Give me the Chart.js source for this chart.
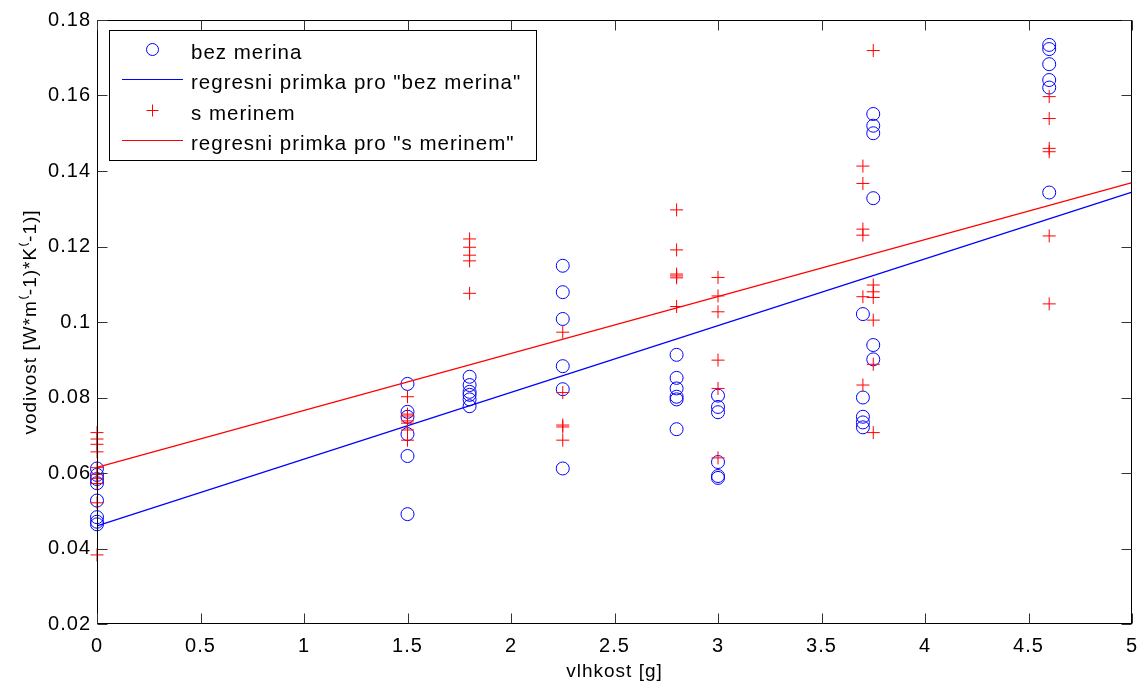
<!DOCTYPE html>
<html><head><meta charset="utf-8">
<script src="https://cdn.jsdelivr.net/npm/chart.js@4.4.1/dist/chart.umd.min.js"></script>
<style>html,body{margin:0;padding:0;background:#fff;} canvas{display:block;}</style>
</head><body>
<canvas id="c" width="1141" height="684"></canvas>
<script>
// ---- data ----
const groupX = [0, 1.5, 1.8, 2.25, 2.8, 3.0, 3.7, 3.75, 4.6];
const bezMerina = [
  [0.0612, 0.0595, 0.0584, 0.0573, 0.0527, 0.0483, 0.0471, 0.0464],
  [0.0836, 0.0762, 0.0749, 0.0703, 0.0645, 0.0491],
  [0.0855, 0.0833, 0.0815, 0.0807, 0.0795, 0.0777],
  [0.1149, 0.1079, 0.1008, 0.0883, 0.0822, 0.0612],
  [0.0913, 0.0852, 0.0824, 0.0802, 0.0795, 0.0716],
  [0.0805, 0.0775, 0.0761, 0.0629, 0.0592, 0.0587],
  [0.1021, 0.0800, 0.0749, 0.0734, 0.0721],
  [0.1551, 0.1520, 0.1500, 0.1328, 0.0939, 0.0901],
  [0.1734, 0.1723, 0.1683, 0.1641, 0.1621, 0.1343]
];
const sMerinem = [
  [0.0707, 0.0690, 0.0676, 0.0656, 0.0614, 0.0597, 0.0586, 0.0572, 0.0521, 0.0383],
  [0.0802, 0.0756, 0.0751, 0.0738, 0.0732, 0.0714, 0.0687],
  [0.1220, 0.1198, 0.1177, 0.1162, 0.1076],
  [0.0973, 0.0813, 0.0727, 0.0722, 0.0687],
  [0.1297, 0.1191, 0.1127, 0.1122, 0.1117, 0.1041],
  [0.1118, 0.1069, 0.1027, 0.0899, 0.0824, 0.0640],
  [0.1413, 0.1367, 0.1246, 0.1230, 0.1067, 0.0833],
  [0.1719, 0.1098, 0.1080, 0.1065, 0.1005, 0.0888, 0.0707],
  [0.1597, 0.1539, 0.1460, 0.1451, 0.1228, 0.1048]
];
const regX = [0, 5];
const regBez = [0.0460, 0.1344];
const regS = [0.0615, 0.1369];
const xTickValues = [0, 0.5, 1, 1.5, 2, 2.5, 3, 3.5, 4, 4.5, 5];
const xTickLabels = ['0', '0.5', '1', '1.5', '2', '2.5', '3', '3.5', '4', '4.5', '5'];
const yTickValues = [0.02, 0.04, 0.06, 0.08, 0.1, 0.12, 0.14, 0.16, 0.18];
const yTickLabels = ['0.02', '0.04', '0.06', '0.08', '0.1', '0.12', '0.14', '0.16', '0.18'];
const seriesLabels = ['bez merina', 'regresni primka pro "bez merina"', 's merinem', 'regresni primka pro "s merinem"'];
const xTitle = 'vlhkost [g]';
const yTitle = 'vodivost [W*m\u207D-1)*K\u207D-1)]';

// ---- build ----
function toPoints(groups) {
  const pts = [];
  groups.forEach((ys, i) => ys.forEach(y => pts.push({ x: groupX[i], y: y })));
  return pts;
}
function linePoints(xs, ys) { return xs.map((x, i) => ({ x: x, y: ys[i] })); }

const BLUE = 'rgb(0,0,255)', RED = 'rgb(255,0,0)';
const FONT = "'Liberation Sans', Arial, sans-serif";
Chart.defaults.font.family = FONT;
Chart.defaults.color = '#000';

const framePlugin = {
  id: 'frame',
  beforeDraw(chart) { try { chart.ctx.letterSpacing = '1px'; } catch (e) {} },
  afterDatasetsDraw(chart) {
    const { ctx, chartArea: a, scales } = chart;
    ctx.save();
    ctx.strokeStyle = '#000';
    ctx.lineWidth = 1;
    const L = Math.round(a.left) + 0.5, R = Math.round(a.right) - 0.5;
    const T = Math.round(a.top) + 0.5, B = Math.round(a.bottom) - 0.5;
    ctx.strokeRect(L, T, R - L, B - T);
    ctx.strokeStyle = '#333';
    ctx.beginPath();
    const tl = 10;
    scales.x.ticks.forEach(t => {
      const px = Math.round(scales.x.getPixelForValue(t.value)) + 0.5;
      ctx.moveTo(px, B); ctx.lineTo(px, B - tl);
      ctx.moveTo(px, T); ctx.lineTo(px, T + tl);
    });
    scales.y.ticks.forEach(t => {
      const py = Math.round(scales.y.getPixelForValue(t.value)) + 0.5;
      ctx.moveTo(L, py); ctx.lineTo(L + tl, py);
      ctx.moveTo(R, py); ctx.lineTo(R - tl, py);
    });
    ctx.stroke();

    // legend box (MATLAB style, inside the axes)
    const bx = 109.5, by = 30.5, bw = 427, bh = 130;
    ctx.fillStyle = '#fff';
    ctx.fillRect(bx, by, bw, bh);
    ctx.strokeStyle = '#000';
    ctx.strokeRect(bx, by, bw, bh);
    const ds = chart.data.datasets;
    const rowY = [49.5, 79.5, 110.5, 140.5];
    ctx.font = '20.5px ' + FONT;
    ctx.textAlign = 'left';
    ctx.textBaseline = 'alphabetic';
    for (let i = 0; i < 4; i++) {
      const d = ds[i];
      const y = rowY[i];
      ctx.strokeStyle = d.borderColor; ctx.lineWidth = 1;
      ctx.beginPath();
      if (d.showLine) {
        ctx.moveTo(122, y); ctx.lineTo(183, y);
      } else if (d.pointStyle === 'circle') {
        ctx.arc(152.5, y, 6, 0, Math.PI * 2);
      } else {
        ctx.moveTo(146.5, y); ctx.lineTo(158.5, y); ctx.moveTo(152.5, y - 6); ctx.lineTo(152.5, y + 6);
      }
      ctx.stroke();
      ctx.fillStyle = '#000';
      ctx.fillText(seriesLabels[i], 191, y + 9);
    }
    ctx.restore();
  }
};

new Chart(document.getElementById('c'), {
  type: 'scatter',
  data: {
    datasets: [
      { label: seriesLabels[0], data: toPoints(bezMerina), pointStyle: 'circle', pointRadius: 6.5, pointHoverRadius: 6.5,
        borderColor: BLUE, backgroundColor: 'rgba(0,0,0,0)', borderWidth: 1, showLine: false, clip: false, order: 4 },
      { label: seriesLabels[1], data: linePoints(regX, regBez), showLine: true, pointRadius: 0, borderColor: BLUE,
        borderWidth: 1.2, backgroundColor: BLUE, clip: false, order: 3 },
      { label: seriesLabels[2], data: toPoints(sMerinem), pointStyle: 'cross', pointRadius: 6.5, pointHoverRadius: 6.5,
        borderColor: RED, backgroundColor: RED, borderWidth: 1, showLine: false, clip: false, order: 2 },
      { label: seriesLabels[3], data: linePoints(regX, regS), showLine: true, pointRadius: 0, borderColor: RED,
        borderWidth: 1.2, backgroundColor: RED, clip: false, order: 1 }
    ]
  },
  options: {
    responsive: false,
    animation: false,
    events: [],
    layout: { padding: { left: 0, right: 9, top: 20, bottom: 0 } },
    plugins: { legend: { display: false }, tooltip: { enabled: false } },
    scales: {
      x: {
        type: 'linear', min: 0, max: 5,
        afterBuildTicks(s) { s.ticks = xTickValues.map(v => ({ value: v })); },
        afterFit(s) { s.height = 60; s.paddingLeft = 0; s.paddingRight = 0; },
        ticks: { autoSkip: false, maxRotation: 0, padding: 10, font: { size: 20 }, color: '#000',
          callback: (v, i) => xTickLabels[i] },
        grid: { display: false, drawTicks: false },
        border: { display: false },
        title: { display: true, text: xTitle, font: { size: 19 }, color: '#000', padding: { top: 0, bottom: 1 } }
      },
      y: {
        type: 'linear', min: 0.02, max: 0.18,
        afterBuildTicks(s) { s.ticks = yTickValues.map(v => ({ value: v })); },
        afterFit(s) { s.width = 97; s.paddingTop = 0; s.paddingBottom = 0; },
        ticks: { autoSkip: false, padding: 6, font: { size: 20 }, color: '#000',
          callback: (v, i) => yTickLabels[i] },
        grid: { display: false, drawTicks: false },
        border: { display: false },
        title: { display: true, text: yTitle, font: { size: 19 }, color: '#000', padding: { top: 19, bottom: 0 } }
      }
    }
  },
  plugins: [framePlugin]
});
</script>
</body></html>
